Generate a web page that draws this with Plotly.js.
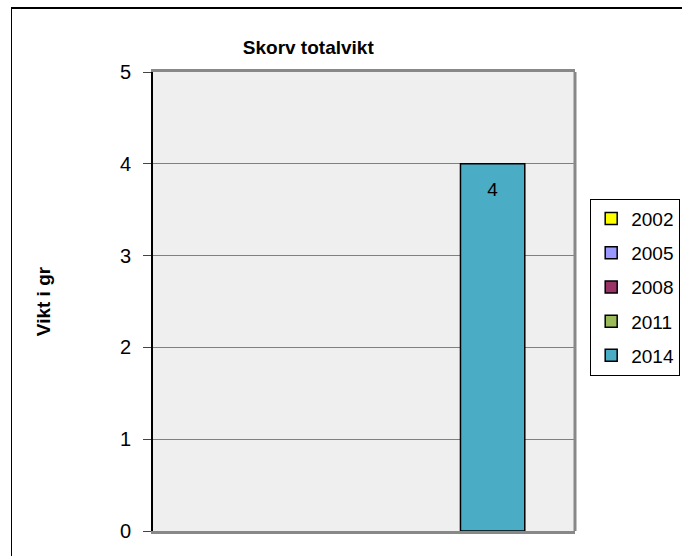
<!DOCTYPE html>
<html>
<head>
<meta charset="utf-8">
<script src="https://cdn.plot.ly/plotly-3.0.1.min.js"></script>
<style>
  html, body { margin: 0; padding: 0; background: #ffffff; }
  #chart { position: absolute; left: 0; top: 0; width: 682px; height: 556px; }
  #frame { position: absolute; left: 11px; top: 7px; width: 700px; height: 600px;
           border-left: 1px solid #000; border-top: 2px solid #000; pointer-events: none; }
</style>
</head>
<body>
<div id="chart"></div>
<div id="frame"></div>
<script>
const categories = [""];
const seriesNames = ["2002", "2005", "2008", "2011", "2014"];
const seriesValues = [[null], [null], [null], [null], [4]];
const seriesColors = ["#FFFF00", "#9999FF", "#993366", "#9BBB59", "#4BACC6"];
const titleText = "Skorv totalvikt";
const yTitleText = "Vikt i gr";

const traces = seriesNames.map((name, i) => ({
  type: "bar",
  name: name,
  x: categories,
  y: seriesValues[i],
  legendgroup: "g" + i,
  marker: { color: seriesColors[i], line: { color: "#000000", width: 1.5 } },
  text: seriesValues[i].map(v => v == null ? "" : "&nbsp;<br><span style='font-size:19px'>" + String(v) + "</span>"),
  textposition: "inside",
  insidetextanchor: "end",
  textfont: { family: "Arial, Liberation Sans, sans-serif", size: 13, color: "#000000" },
  hoverinfo: "none"
}));

const layout = {
  width: 682,
  height: 556,
  margin: { l: 153, r: 107, t: 72, b: 25, autoexpand: false },
  paper_bgcolor: "#ffffff",
  plot_bgcolor: "#EFEFEF",
  barmode: "group",
  bargap: 0.238,
  bargroupgap: 0,
  font: { family: "Arial, Liberation Sans, sans-serif", color: "#000000" },
  title: {
    text: "<b>" + titleText + "</b>",
    font: { size: 19, color: "#000000" },
    x: 0.452, xanchor: "center", xref: "container",
    y: 0.915, yanchor: "middle", yref: "container"
  },
  xaxis: {
    showticklabels: false,
    ticks: "",
    showgrid: false,
    zeroline: false,
    showline: true,
    linecolor: "#888888",
    linewidth: 3,
    mirror: true,
    fixedrange: true
  },
  yaxis: {
    range: [0, 5],
    dtick: 1,
    tick0: 0,
    ticks: "outside",
    ticklen: 8,
    tickcolor: "#444444",
    tickwidth: 1,
    ticklabelstandoff: 8,
    tickfont: { size: 20, color: "#000000" },
    showgrid: true,
    gridcolor: "#808080",
    gridwidth: 1,
    zeroline: false,
    showline: true,
    linecolor: "#000000",
    linewidth: 2,
    title: { text: "<b>" + yTitleText + "</b>", font: { size: 19, color: "#000000" }, standoff: 64 },
    automargin: false,
    fixedrange: true
  },
  shapes: [
    { type: "line", xref: "paper", yref: "paper", x0: 1, x1: 1, y0: 0, y1: 1,
      line: { color: "#888888", width: 3 } }
  ],
  legend: {
    x: 1.036, xanchor: "left",
    y: 0.724, yanchor: "top",
    bgcolor: "#ffffff",
    bordercolor: "#000000",
    borderwidth: 1,
    font: { size: 19, color: "#000000" },
    tracegroupgap: 6.5,
    traceorder: "grouped",
    itemwidth: 30
  },
  showlegend: true
};

Plotly.newPlot("chart", traces, layout, { displayModeBar: false, staticPlot: true });
</script>
</body>
</html>
